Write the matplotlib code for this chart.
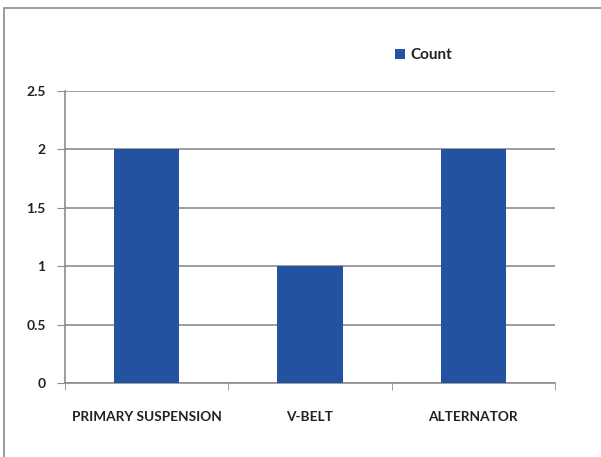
import matplotlib
matplotlib.use("Agg")
import matplotlib.pyplot as plt
from matplotlib.patches import Rectangle

categories = ["PRIMARY SUSPENSION", "V-BELT", "ALTERNATOR"]
counts = [2, 1, 2]
series_name = "Count"
y_ticks = [0, 0.5, 1, 1.5, 2, 2.5]
y_tick_labels = ["0", "0.5", "1", "1.5", "2", "2.5"]

bar_color = "#2353A0"
grid_color = "#8C8C8C"
text_color = "#222222"

plt.rcParams["font.family"] = ["Lato", "DejaVu Sans"]

fig = plt.figure(figsize=(6.01, 4.57), dpi=100)
fig.patch.set_facecolor("white")

# chart-area frame (runs off the right and bottom edges)
fig.patches.append(Rectangle((4 / 601, -0.05), 1.2, (457 - 8) / 457 + 0.05,
                             transform=fig.transFigure, fill=False,
                             edgecolor="#8A8A8A", linewidth=1.2))

ax = fig.add_axes([65 / 601, (457 - 383) / 457, (555 - 65) / 601, (383 - 91) / 457])
x = list(range(len(categories)))
bars = ax.bar(x, counts, width=0.4, color=bar_color, label=series_name, zorder=3)

ax.set_xlim(-0.5, len(categories) - 0.5)
ax.set_ylim(0, 2.5)
ax.set_yticks(y_ticks)
ax.set_yticklabels(y_tick_labels)
ax.set_xticks(x)
ax.set_xticklabels(categories)
ax.set_xticks([i - 0.5 for i in range(len(categories) + 1)], minor=True)

ax.yaxis.grid(True, color=grid_color, linewidth=1.2, zorder=0)
ax.set_axisbelow(True)
for s in ["top", "right"]:
    ax.spines[s].set_visible(False)
for s in ["left", "bottom"]:
    ax.spines[s].set_color(grid_color)
    ax.spines[s].set_linewidth(1.2)

ax.tick_params(axis="y", length=6, color=grid_color, labelsize=10,
               labelcolor=text_color, pad=8)
ax.tick_params(axis="x", which="major", length=0, labelsize=9.8,
               labelcolor=text_color, pad=20)
ax.tick_params(axis="x", which="minor", length=5, color=grid_color)
for lbl in ax.get_xticklabels() + ax.get_yticklabels():
    lbl.set_fontweight("bold")

leg = fig.legend(handles=[bars], labels=[series_name], loc="center left",
                 bbox_to_anchor=(381 / 601, 1 - 55 / 457), frameon=False,
                 handlelength=0.65, handleheight=0.65, handletextpad=0.35,
                 prop={"size": 11, "weight": "bold"})
for t in leg.get_texts():
    t.set_color(text_color)

fig.savefig("out.png", dpi=100, facecolor="white")
